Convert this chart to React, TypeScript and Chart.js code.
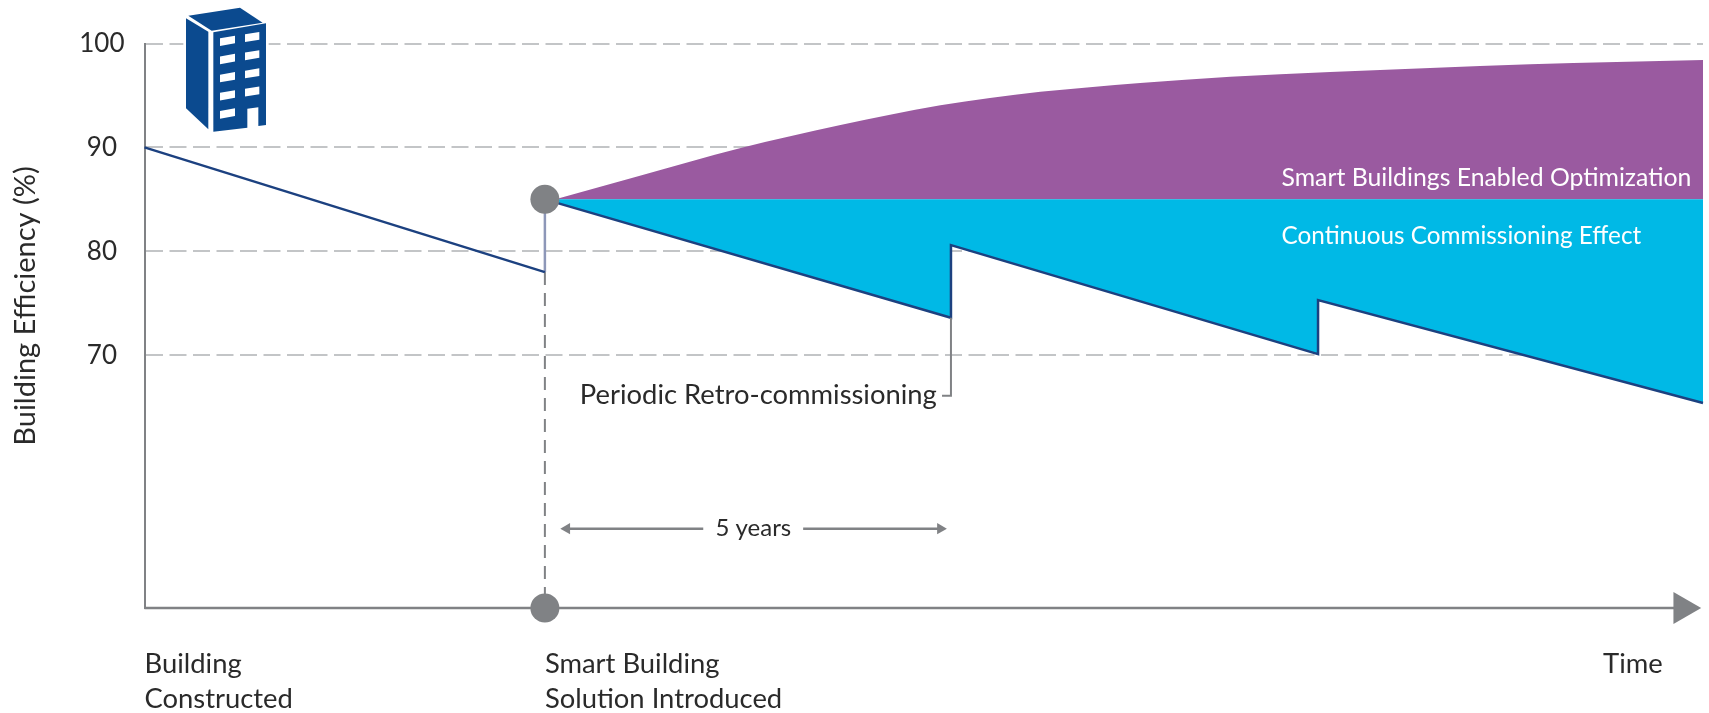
import React, { useEffect, useRef } from "react";
import { Chart, registerables } from "chart.js";

Chart.register(...registerables);

const FONT = 'Lato, sans-serif';
const yTicks = [100, 90, 80, 70];
const yBottom = 45.67;
const xEnd = 19.19;
const introYear = 4.93;

const declineX = [0, 4.93];
const declineY = [90, 78];
const stemY = [78, 85];
const sawX = [4.93, 9.93, 9.93, 14.45, 14.45, 19.19];
const sawY = [85, 73.6, 80.6, 70.1, 75.3, 65.4];
const curveX = [5.06, 6.1, 7.33, 8.57, 9.18, 9.8, 10.41, 11.03, 11.64, 12.26, 13.37, 14.6, 15.83, 17.06, 19.19];
const curveY = [85, 87.26, 89.92, 92.15, 93.15, 94.05, 94.75, 95.35, 95.8, 96.2, 96.8, 97.25, 97.65, 98.0, 98.41];
const calloutX = [9.93, 9.93, 9.82];
const calloutY = [73.6, 66.1, 66.1];
const spanLeftX = [5.2, 6.88];
const spanRightX = [8.11, 9.8];
const spanY = 53.3;
const axisEndX = 18.94;

const axisLabels = [
  { x: 0, lines: ["Building", "Constructed"] },
  { x: 4.93, lines: ["Smart Building", "Solution Introduced"] },
  { x: 17.96, lines: ["Time"] },
];
const notes = [
  { text: "Periodic Retro-commissioning", x: 5.36, y: 66.2, color: "#2a2a2a", size: 27.4 },
  { text: "Smart Buildings Enabled Optimization", x: 14.0, y: 87.07, color: "#ffffff", size: 24.8 },
  { text: "Continuous Commissioning Effect", x: 14.0, y: 81.42, color: "#ffffff", size: 24.3 },
  { text: "5 years", x: 7.03, y: 53.3, color: "#2a2a2a", size: 24 },
];
const yTitle = "Building Efficiency (%)";

const GRAY = "#808285";
const NAVY = "#1c4180";
const zip = (xs: number[], ys: number[]) => xs.map((x, i) => ({ x, y: ys[i] }));

function poly(ctx: CanvasRenderingContext2D, pts: number[][], fill: string) {
  ctx.fillStyle = fill;
  ctx.beginPath();
  pts.forEach(([x, y], i) => {
    const px = 170 + x / 3;
    const py = y / 3;
    if (i === 0) ctx.moveTo(px, py);
    else ctx.lineTo(px, py);
  });
  ctx.closePath();
  ctx.fill();
}

function drawBuilding(ctx: CanvasRenderingContext2D) {
  const blue = "#0b4a8f";
  poly(ctx, [[40, 45], [210, 16], [296, 66], [296, 380], [125, 402], [40, 330]], "#ffffff");
  poly(ctx, [[48, 55], [115, 95], [115, 388], [48, 325]], blue);
  poly(ctx, [[55, 47], [210, 23], [278, 68], [125, 92]], blue);
  poly(ctx, [[130, 97], [288, 70], [288, 375], [265, 378], [265, 322], [232, 326], [232, 383], [130, 395]], blue);
  for (let r = 0; r < 5; r++) {
    const d = r * 54.5;
    poly(ctx, [[150, 115 + d], [195, 107 + d], [195, 130 + d], [150, 138 + d]], "#ffffff");
    if (r < 4) poly(ctx, [[225, 103 + d], [268, 96 + d], [268, 119 + d], [225, 126 + d]], "#ffffff");
  }
}

const decor = {
  id: "decor",
  afterDatasetsDraw(chart: any) {
    const { ctx, scales } = chart;
    const X = scales.x;
    const Y = scales.y;
    ctx.save();
    drawBuilding(ctx);
    ctx.textBaseline = "middle";
    ctx.fillStyle = "#2a2a2a";
    ctx.font = `27.4px ${FONT}`;
    ctx.textAlign = "left";
    axisLabels.forEach((l) => {
      l.lines.forEach((t, i) => {
        ctx.fillText(t, X.getPixelForValue(l.x), 664 + i * 35);
      });
    });
    notes.forEach((n) => {
      ctx.fillStyle = n.color;
      ctx.font = `${n.size}px ${FONT}`;
      ctx.fillText(n.text, X.getPixelForValue(n.x), Y.getPixelForValue(n.y));
    });
    ctx.translate(26, 306);
    ctx.rotate(-Math.PI / 2);
    ctx.textAlign = "center";
    ctx.fillStyle = "#2a2a2a";
    ctx.font = `29px ${FONT}`;
    ctx.fillText(yTitle, 0, 0);
    ctx.restore();
  },
};

export default function App() {
  const ref = useRef<HTMLCanvasElement>(null);
  useEffect(() => {
    if (!ref.current) return;
    const plain = { showLine: true, pointRadius: 0, clip: false as const, tension: 0 };
    const chart = new Chart(ref.current, {
      type: "scatter",
      data: {
        datasets: [
          {
            label: "Milestones",
            data: [{ x: introYear, y: 85 }, { x: introYear, y: yBottom }],
            showLine: false,
            pointRadius: 14.5,
            pointBackgroundColor: GRAY,
            pointBorderWidth: 0,
            clip: false,
          },
          {
            label: "Axis arrow",
            data: [{ x: axisEndX, y: yBottom }],
            showLine: false,
            pointStyle: "triangle",
            pointRotation: 90,
            pointRadius: 18.5,
            pointBackgroundColor: GRAY,
            pointBorderWidth: 0,
            clip: false,
          },
          { ...plain, label: "Time axis", data: zip([0, axisEndX], [yBottom, yBottom]), borderColor: GRAY, borderWidth: 2.5 },
          { ...plain, label: "Decline", data: zip(declineX, declineY), borderColor: NAVY, borderWidth: 2.5 },
          { ...plain, label: "Stem", data: zip([introYear, introYear], stemY), borderColor: "#8d97b8", borderWidth: 2.5 },
          { ...plain, label: "Intro", data: zip([introYear, introYear], [78, yBottom]), borderColor: GRAY, borderWidth: 2, borderDash: [13, 8] },
          { ...plain, label: "Callout", data: zip(calloutX, calloutY), borderColor: GRAY, borderWidth: 2 },
          {
            ...plain,
            label: "Span left",
            data: zip(spanLeftX, [spanY, spanY]),
            borderColor: GRAY,
            borderWidth: 2.5,
            pointRadius: [6.5, 0],
            pointStyle: "triangle",
            pointRotation: -90,
            pointBackgroundColor: GRAY,
            pointBorderWidth: 0,
          },
          {
            ...plain,
            label: "Span right",
            data: zip(spanRightX, [spanY, spanY]),
            borderColor: GRAY,
            borderWidth: 2.5,
            pointRadius: [0, 6.5],
            pointStyle: "triangle",
            pointRotation: 90,
            pointBackgroundColor: GRAY,
            pointBorderWidth: 0,
          },
          {
            ...plain,
            label: "Continuous Commissioning Effect",
            data: zip(sawX, sawY),
            borderColor: NAVY,
            borderWidth: 2.5,
            backgroundColor: "#00b9e6",
            fill: { value: 85 },
          },
          {
            ...plain,
            label: "Smart Buildings Enabled Optimization",
            data: zip(curveX, curveY),
            borderWidth: 0,
            borderColor: "#9a5aa0",
            backgroundColor: "#9a5aa0",
            cubicInterpolationMode: "monotone",
            fill: { value: 85 },
          },
        ],
      } as any,
      options: {
        animation: false,
        responsive: false,
        layout: { autoPadding: false, padding: { top: 43.5, right: 6, bottom: 0, left: 0 } },
        plugins: { legend: { display: false }, tooltip: { enabled: false }, title: { display: false } },
        scales: {
          x: {
            type: "linear",
            min: 0,
            max: xEnd,
            grid: { display: false },
            border: { display: false },
            ticks: { display: false },
            afterFit: (s: any) => { s.height = 105; },
          },
          y: {
            type: "linear",
            min: yBottom,
            max: 100,
            afterFit: (s: any) => { s.width = 144.5; },
            afterBuildTicks: (s: any) => { s.ticks = yTicks.map((value) => ({ value })); },
            grid: { color: "#c3c5c7", lineWidth: 2, drawTicks: false },
            border: { display: true, color: GRAY, width: 2, dash: [17, 6.5] },
            ticks: {
              padding: 20,
              crossAlign: "center",
              color: "#2a2a2a",
              font: { family: FONT, size: 26 },
            },
          },
        },
      } as any,
      plugins: [decor],
    });
    return () => chart.destroy();
  }, []);
  return (
    <canvas
      ref={ref}
      width={1709}
      height={713}
      style={{ position: "absolute", left: 0, top: 0, width: 1709, height: 713, display: "block" }}
    />
  );
}
